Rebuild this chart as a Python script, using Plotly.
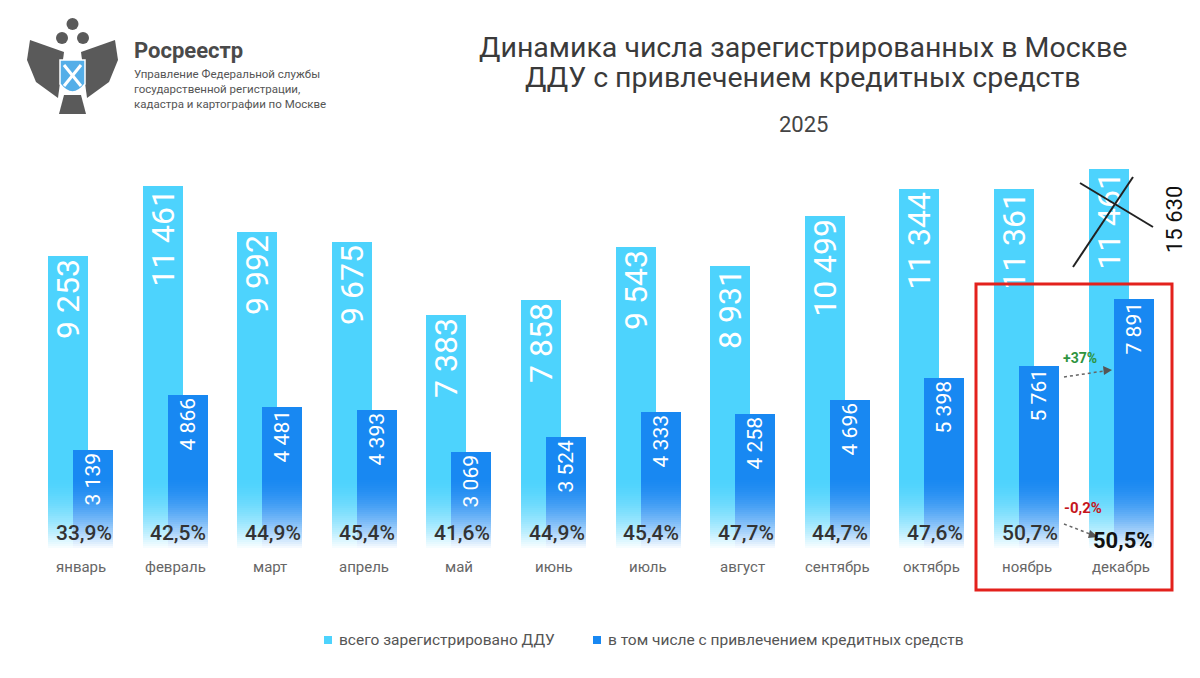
import plotly.graph_objects as go

# данные
months = ["январь", "февраль", "март", "апрель", "май", "июнь",
          "июль", "август", "сентябрь", "октябрь", "ноябрь", "декабрь"]
total_labels = ["9 253", "11 461", "9 992", "9 675", "7 383", "7 858",
                "9 543", "8 931", "10 499", "11 344", "11 361", "11 461"]
# высота столбцов по картинке (декабрьский столбец нарисован выше подписи)
total_bar = [9253, 11461, 9992, 9675, 7383, 7858, 9543, 8931, 10499, 11344, 11361, 11990]
credit = [3139, 4866, 4481, 4393, 3069, 3524, 4333, 4258, 4696, 5398, 5761, 7891]
credit_labels = ["3 139", "4 866", "4 481", "4 393", "3 069", "3 524",
                 "4 333", "4 258", "4 696", "5 398", "5 761", "7 891"]
share = ["33,9%", "42,5%", "44,9%", "45,4%", "41,6%", "44,9%",
         "45,4%", "47,7%", "44,7%", "47,6%", "50,7%", "50,5%"]
series_names = ["всего зарегистрировано ДДУ",
                "в том числе с привлечением кредитных средств"]
dec_real = "15 630"

W, H = 1200, 678
FONT = "Roboto"
LIGHT = "#4DD3FD"
DARK = "#1888F2"

x = list(range(len(months)))


def px(p):
    return p / W


def py(p):
    return 1 - p / H


def text(xp, yp, s, size, color, xa="center", ya="middle", **kw):
    return dict(x=px(xp), y=py(yp), xref="paper", yref="paper", text=s,
                showarrow=False, xanchor=xa, yanchor=ya,
                font=dict(family=FONT, size=size, color=color), **kw)


fig = go.Figure()
fig.add_trace(go.Bar(
    x=x, y=total_bar, name=series_names[0], showlegend=False,
    width=0.423, offset=-0.343, marker=dict(color=LIGHT, line_width=0),
    text=total_labels, textposition="inside", insidetextanchor="end",
    textangle=-90, constraintext="none",
    textfont=dict(family=FONT, size=32, color="white"),
))
fig.add_trace(go.Bar(
    x=x, y=credit, name=series_names[1], showlegend=False,
    width=0.423, offset=-0.079, marker=dict(color=DARK, line_width=0),
    text=credit_labels, textposition="inside", insidetextanchor="end",
    textangle=-90, constraintext="none",
    textfont=dict(family=FONT, size=21, color="white"),
))

shapes = []
# плавное исчезновение столбцов к низу
for p in range(474, 552, 2):
    a = min(1.0, ((p - 474) / 74) ** 1.8)
    shapes.append(dict(type="rect", xref="paper", yref="paper",
                       x0=0, x1=1, y0=py(p + 2), y1=py(p),
                       fillcolor="white", opacity=a, line_width=0, layer="above"))

# красная рамка
shapes.append(dict(type="rect", xref="paper", yref="paper",
                   x0=px(976), x1=px(1172), y0=py(590), y1=py(284),
                   line=dict(color="#E3211C", width=3)))
# зачеркивание
shapes.append(dict(type="line", xref="paper", yref="paper",
                   x0=px(1073), y0=py(267), x1=px(1133), y1=py(177),
                   line=dict(color="#222", width=2)))
shapes.append(dict(type="line", xref="paper", yref="paper",
                   x0=px(1080), y0=py(183), x1=px(1153), y1=py(227),
                   line=dict(color="#222", width=2)))
# пунктирные стрелки
for (x0, y0, x1, y1) in [(1064, 377, 1104, 371), (1064, 524, 1090, 534)]:
    shapes.append(dict(type="line", xref="paper", yref="paper",
                       x0=px(x0), y0=py(y0), x1=px(x1), y1=py(y1),
                       line=dict(color="#666", width=1.5, dash="dot")))
shapes.append(dict(type="path", xref="paper", yref="paper", fillcolor="#555", line_width=0,
                   path=f"M{px(1112)},{py(370)} L{px(1103)},{py(366)} L{px(1104)},{py(375)} Z"))
shapes.append(dict(type="path", xref="paper", yref="paper", fillcolor="#555", line_width=0,
                   path=f"M{px(1098)},{py(537)} L{px(1090)},{py(530)} L{px(1088)},{py(538)} Z"))

# легенда
for (lx, col) in [(324, LIGHT), (593, DARK)]:
    shapes.append(dict(type="rect", xref="paper", yref="paper", fillcolor=col, line_width=0,
                       x0=px(lx), x1=px(lx + 8), y0=py(644), y1=py(636)))

# эмблема (упрощённо)
gray = "#5a5a5a"
shapes.append(dict(type="path", xref="paper", yref="paper", fillcolor=gray, line_width=0,
                   path=f"M{px(64)},{py(52)} L{px(30)},{py(40)} L{px(27)},{py(60)} "
                        f"L{px(36)},{py(82)} L{px(58)},{py(98)} Z"))
shapes.append(dict(type="path", xref="paper", yref="paper", fillcolor=gray, line_width=0,
                   path=f"M{px(81)},{py(52)} L{px(115)},{py(40)} L{px(118)},{py(60)} "
                        f"L{px(109)},{py(82)} L{px(87)},{py(98)} Z"))
shapes.append(dict(type="path", xref="paper", yref="paper", fillcolor=gray, line_width=0,
                   path=f"M{px(64)},{py(95)} L{px(81)},{py(95)} L{px(86)},{py(114)} "
                        f"L{px(59)},{py(114)} Z"))
for cx, cy, r in [(62, 38, 6), (83, 38, 6), (72.5, 24, 6)]:
    shapes.append(dict(type="circle", xref="paper", yref="paper", fillcolor=gray, line_width=0,
                       x0=px(cx - r), x1=px(cx + r), y0=py(cy + r), y1=py(cy - r)))
shapes.append(dict(type="path", xref="paper", yref="paper", fillcolor="#54AEE8",
                   line=dict(color="white", width=1.5),
                   path=f"M{px(60)},{py(60)} L{px(85)},{py(60)} L{px(85)},{py(84)} "
                        f"Q{px(72.5)},{py(100)} {px(60)},{py(84)} Z"))
shapes.append(dict(type="line", xref="paper", yref="paper", x0=px(64), y0=py(65),
                   x1=px(81), y1=py(86), line=dict(color="white", width=3)))
shapes.append(dict(type="line", xref="paper", yref="paper", x0=px(81), y0=py(65),
                   x1=px(64), y1=py(86), line=dict(color="white", width=3)))

ann = []
# подписи месяцев и доли
for i, m in enumerate(months):
    ann.append(dict(x=i, y=py(567), xref="x", yref="paper", text=m, showarrow=False,
                    xanchor="center", yanchor="middle",
                    font=dict(family=FONT, size=15, color="#666")))
    if i < len(months) - 1:
        ann.append(dict(x=i, y=py(533), xref="x", yref="paper", text=share[i],
                        showarrow=False, xshift=3, xanchor="center", yanchor="middle",
                        font=dict(family=FONT, size=21, color="#333", weight=500)))
    else:
        ann.append(dict(x=i, y=py(540), xref="x", yref="paper", text="<b>" + share[i] + "</b>",
                        showarrow=False, xshift=2, xanchor="center", yanchor="middle",
                        font=dict(family=FONT, size=22, color="#111")))

ann += [
    text(1174, 220, dec_real, 22, "#111", textangle=-90),
    text(1080, 358, "<b>+37%</b>", 14, "#2E9440"),
    text(1083, 508, "<b>-0,2%</b>", 15, "#C4161C"),
    text(803, 47, "Динамика числа зарегистрированных в Москве", 28.5, "#3a3a3a"),
    text(803, 77, "ДДУ с привлечением кредитных средств", 28.5, "#3a3a3a"),
    text(803, 124, "2025", 22, "#444"),
    text(132, 50, "<b>Росреестр</b>", 22, "#4a4a4a", xa="left"),
    text(132, 89, "Управление Федеральной службы<br>государственной регистрации,<br>"
                  "кадастра и картографии по Москве", 11.5, "#555", xa="left", align="left"),
    text(337, 640, series_names[0], 15.5, "#555", xa="left"),
    text(606, 640, series_names[1], 15.5, "#555", xa="left"),
]

fig.update_layout(
    width=W, height=H, margin=dict(l=0, r=0, t=0, b=0),
    paper_bgcolor="white", plot_bgcolor="white",
    barmode="overlay", bargap=0, showlegend=False,
    xaxis=dict(range=[-0.851, 11.834], visible=False, fixedrange=True),
    yaxis=dict(range=[-4069, 17319], visible=False, fixedrange=True),
    shapes=shapes, annotations=ann,
    font=dict(family=FONT),
)

fig.write_html("out.html", config={"displayModeBar": False},
               post_script="document.body.style.margin='0';")
